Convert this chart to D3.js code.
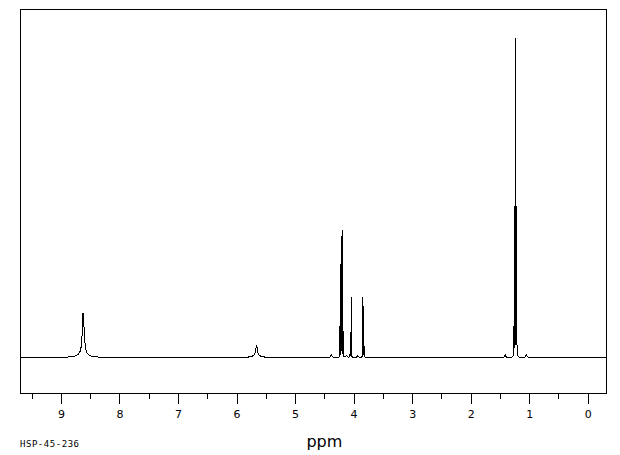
<!DOCTYPE html>
<html lang="en">
<head>
    <meta charset="UTF-8">
    <title>HSP-45-236 1H NMR</title>
    <script src="https://cdnjs.cloudflare.com/ajax/libs/d3/7.8.5/d3.min.js"></script>
    <style>
        body { margin: 0; background: #fff; }
        .frame { fill: none; stroke: #000; stroke-width: 1; shape-rendering: crispEdges; }
        .trace { fill: none; stroke: #000; stroke-width: 1; shape-rendering: crispEdges; }
        .axis path { display: none; }
        .axis line { stroke: #000; shape-rendering: crispEdges; }
        .axis text { font-family: "DejaVu Sans", sans-serif; font-size: 11px; fill: #000; }
    </style>
</head>
<body>
    <div id="chart"></div>
    <script>
        // Peak list: position (ppm), height (% of tallest), half-width (ppm)
        const peakPpm    = [8.623, 8.605, 8.62, 5.657, 5.66, 4.38,
                            4.232, 4.214, 4.196, 4.178, 4.12, 4.057, 4.040,
                            3.93, 3.842, 3.825, 1.41, 1.262, 1.250, 1.232, 1.214, 1.05];
        const peakHeight = [11, 4, 1.2, 3.2, 0.7, 0.8,
                            10, 38, 40, 8, 0.7, 8, 19,
                            0.7, 19, 16, 0.8, 9, 47, 100, 47, 1.0];
        const peakWidth  = [0.015, 0.015, 0.08, 0.015, 0.06, 0.01,
                            0.0015, 0.0015, 0.0015, 0.0015, 0.01, 0.0015, 0.0015,
                            0.01, 0.0015, 0.0015, 0.01, 0.0015, 0.0015, 0.0015, 0.0015, 0.01];

        const majorTicks = [9, 8, 7, 6, 5, 4, 3, 2, 1, 0];
        const minorTicks = [9.5, 8.5, 7.5, 6.5, 5.5, 4.5, 3.5, 2.5, 1.5, 0.5];

        const W = 620, H = 455;
        const box = {left: 20.5, right: 606.5, top: 9.5, bottom: 393.5};

        const x = d3.scaleLinear().domain([9.69, -0.32]).range([box.left, box.right]);
        const y = d3.scaleLinear().domain([-11.36, 109.78]).range([box.bottom, box.top]);

        const svg = d3.select("#chart").append("svg")
            .attr("width", W)
            .attr("height", H);

        // Build the trace as a sum of Lorentzian lines from the peak list
        const xs = d3.range(9.69, -0.32, -0.001).concat(peakPpm).sort((a, b) => b - a);
        const trace = xs.map(p => {
            let v = 0;
            peakPpm.forEach((c, i) => {
                const w = peakWidth[i];
                v += peakHeight[i] * w * w / ((p - c) * (p - c) + w * w);
            });
            return [p, v];
        });

        svg.append("path")
            .datum(trace)
            .attr("class", "trace")
            .attr("d", d3.line().x(d => x(d[0])).y(d => y(d[1])));

        // Frame
        svg.append("rect")
            .attr("class", "frame")
            .attr("x", box.left)
            .attr("y", box.top)
            .attr("width", box.right - box.left)
            .attr("height", box.bottom - box.top);

        // Major ticks with labels
        svg.append("g")
            .attr("class", "axis")
            .attr("transform", `translate(0,${box.bottom})`)
            .call(d3.axisBottom(x).tickValues(majorTicks).tickSize(10).tickPadding(7).tickFormat(d3.format("d")));

        // Minor ticks
        svg.append("g")
            .attr("class", "axis")
            .attr("transform", `translate(0,${box.bottom})`)
            .call(d3.axisBottom(x).tickValues(minorTicks).tickSize(5).tickFormat(""));

        // Axis title
        svg.append("text")
            .attr("x", x(4.5))
            .attr("y", 447)
            .attr("text-anchor", "middle")
            .style("font-family", "DejaVu Sans, sans-serif")
            .style("font-size", "16px")
            .text("ppm");

        // Sample code
        svg.append("text")
            .attr("x", 20)
            .attr("y", 447)
            .attr("textLength", 59)
            .style("font-family", "DejaVu Sans Mono, monospace")
            .style("font-size", "9px")
            .text("HSP-45-236");
    </script>
</body>
</html>
